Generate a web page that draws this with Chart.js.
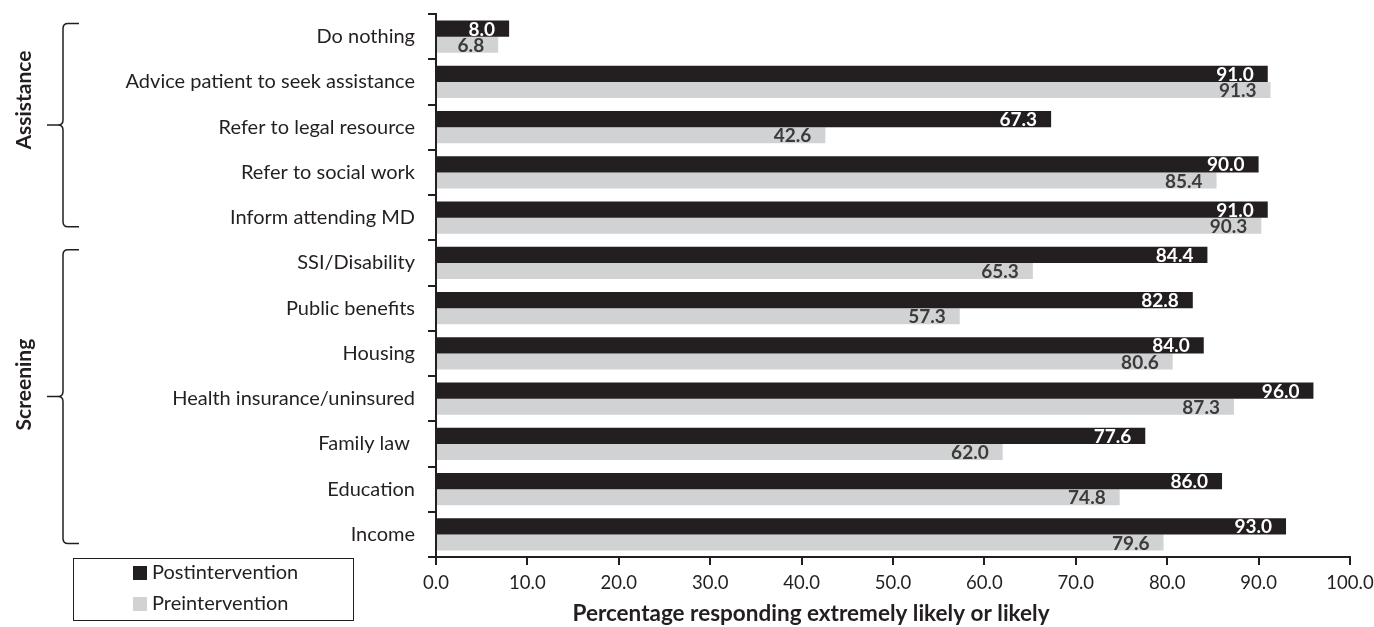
<!DOCTYPE html>
<html lang="en">
<head>
    <meta charset="UTF-8">
    <title>Likelihood of screening and assistance</title>
    <script src="https://cdn.jsdelivr.net/npm/chart.js"></script>
    <style>
        body { margin: 0; background: #fff; }
        #wrap { width: 1374px; height: 627px; }
    </style>
</head>
<body>
    <div id="wrap">
        <canvas id="barChart" width="1374" height="627"></canvas>
    </div>

    <script>
    // data
    const categories = [
        'Do nothing', 'Advice patient to seek assistance', 'Refer to legal resource',
        'Refer to social work', 'Inform attending MD', 'SSI/Disability', 'Public benefits',
        'Housing', 'Health insurance/uninsured', 'Family law ', 'Education', 'Income'
    ];
    const postValues = [8.0, 91.0, 67.3, 90.0, 91.0, 84.4, 82.8, 84.0, 96.0, 77.6, 86.0, 93.0];
    const preValues  = [6.8, 91.3, 42.6, 85.4, 90.3, 65.3, 57.3, 80.6, 87.3, 62.0, 74.8, 79.6];
    const groupNames = ['Assistance', 'Screening'];
    const groupFirst = [0, 5];
    const groupLast  = [4, 11];
    const xTitle = 'Percentage responding extremely likely or likely';

    const FONT = 'Lato, "Open Sans", sans-serif';
    const DARK = '#231f20';
    const LIGHT = '#d1d2d4';

    // value labels at the inner end of each bar
    const valueLabels = {
        id: 'valueLabels',
        afterDatasetsDraw(chart) {
            const ctx = chart.ctx;
            ctx.save();
            ctx.font = 'bold 19px ' + FONT;
            ctx.textAlign = 'right';
            ctx.textBaseline = 'middle';
            chart.data.datasets.forEach((ds, i) => {
                chart.getDatasetMeta(i).data.forEach((bar, j) => {
                    ctx.fillStyle = i === 0 ? '#ffffff' : '#3b3b3b';
                    ctx.fillText(ds.data[j].toFixed(1), bar.x - 14, bar.y + 1);
                });
            });
            ctx.restore();
        }
    };

    // braces, group names, legend box and axis title
    const decorations = {
        id: 'decorations',
        afterDraw(chart) {
            const ctx = chart.ctx;
            const y = chart.scales.y;
            const band = y.getPixelForValue(1) - y.getPixelForValue(0);
            const labelShift = [-25, -12];
            ctx.save();
            ctx.strokeStyle = '#231f20';
            ctx.lineWidth = 1.5;
            groupNames.forEach((name, g) => {
                const top = Math.max(chart.chartArea.top - 1, y.getPixelForValue(groupFirst[g]) - band * 0.29);
                const bot = y.getPixelForValue(groupLast[g]) + band * 0.2;
                const mid = (top + bot) / 2;
                const x = 63, r = 5;
                ctx.beginPath();
                ctx.moveTo(79, top);
                ctx.lineTo(x + r, top);
                ctx.quadraticCurveTo(x, top, x, top + r);
                ctx.lineTo(x, mid - r);
                ctx.quadraticCurveTo(x, mid, x - r, mid);
                ctx.lineTo(47, mid);
                ctx.moveTo(x - r, mid);
                ctx.quadraticCurveTo(x, mid, x, mid + r);
                ctx.lineTo(x, bot - r);
                ctx.quadraticCurveTo(x, bot, x + r, bot);
                ctx.lineTo(79, bot);
                ctx.stroke();

                ctx.save();
                ctx.translate(24, mid + labelShift[g]);
                ctx.rotate(-Math.PI / 2);
                ctx.font = 'bold 21px ' + FONT;
                ctx.fillStyle = '#231f20';
                ctx.textAlign = 'center';
                ctx.textBaseline = 'middle';
                ctx.fillText(name, 0, 0);
                ctx.restore();
            });

            // legend
            ctx.lineWidth = 1;
            ctx.strokeRect(73.5, 558.5, 280, 62);
            ctx.font = '20px ' + FONT;
            ctx.textAlign = 'left';
            ctx.textBaseline = 'middle';
            chart.data.datasets.forEach((ds, i) => {
                const ly = 573 + i * 31;
                ctx.fillStyle = ds.backgroundColor;
                ctx.fillRect(133, ly - 7, 14, 14);
                ctx.fillStyle = '#231f20';
                ctx.fillText(ds.label, 152, ly);
            });

            // axis title
            ctx.font = 'bold 22.5px ' + FONT;
            ctx.textAlign = 'center';
            ctx.fillText(xTitle, 811, 614);
            ctx.restore();
        }
    };

    new Chart(document.getElementById('barChart'), {
        type: 'bar',
        data: {
            labels: categories,
            datasets: [
                { label: 'Postintervention', data: postValues, backgroundColor: DARK },
                { label: 'Preintervention', data: preValues, backgroundColor: LIGHT }
            ]
        },
        options: {
            indexAxis: 'y',
            responsive: false,
            animation: false,
            devicePixelRatio: 1,
            layout: { padding: { left: 0, right: 24, top: 14, bottom: 0 } },
            datasets: { bar: { categoryPercentage: 0.71, barPercentage: 1.0 } },
            scales: {
                x: {
                    min: 0,
                    max: 100,
                    afterFit(scale) {
                        scale.height = 70;
                        scale.paddingLeft = 0;
                        scale.paddingRight = 0;
                    },
                    border: { color: '#231f20', width: 2 },
                    grid: { drawOnChartArea: false, drawTicks: true, tickLength: 8, color: '#231f20', lineWidth: 2 },
                    ticks: {
                        stepSize: 10,
                        padding: 7,
                        color: '#231f20',
                        font: { family: FONT, size: 18.5 },
                        callback: v => v.toFixed(1)
                    }
                },
                y: {
                    afterFit(scale) {
                        scale.width = 436;
                        scale.paddingTop = 0;
                        scale.paddingBottom = 0;
                    },
                    border: { color: '#231f20', width: 2 },
                    grid: { drawOnChartArea: false, drawTicks: true, tickLength: 8, color: '#231f20', lineWidth: 2, offset: true },
                    ticks: {
                        padding: 13,
                        color: '#231f20',
                        font: { family: FONT, size: 20 }
                    }
                }
            },
            plugins: {
                legend: { display: false },
                tooltip: { enabled: false }
            }
        },
        plugins: [valueLabels, decorations]
    });
    </script>
</body>
</html>
